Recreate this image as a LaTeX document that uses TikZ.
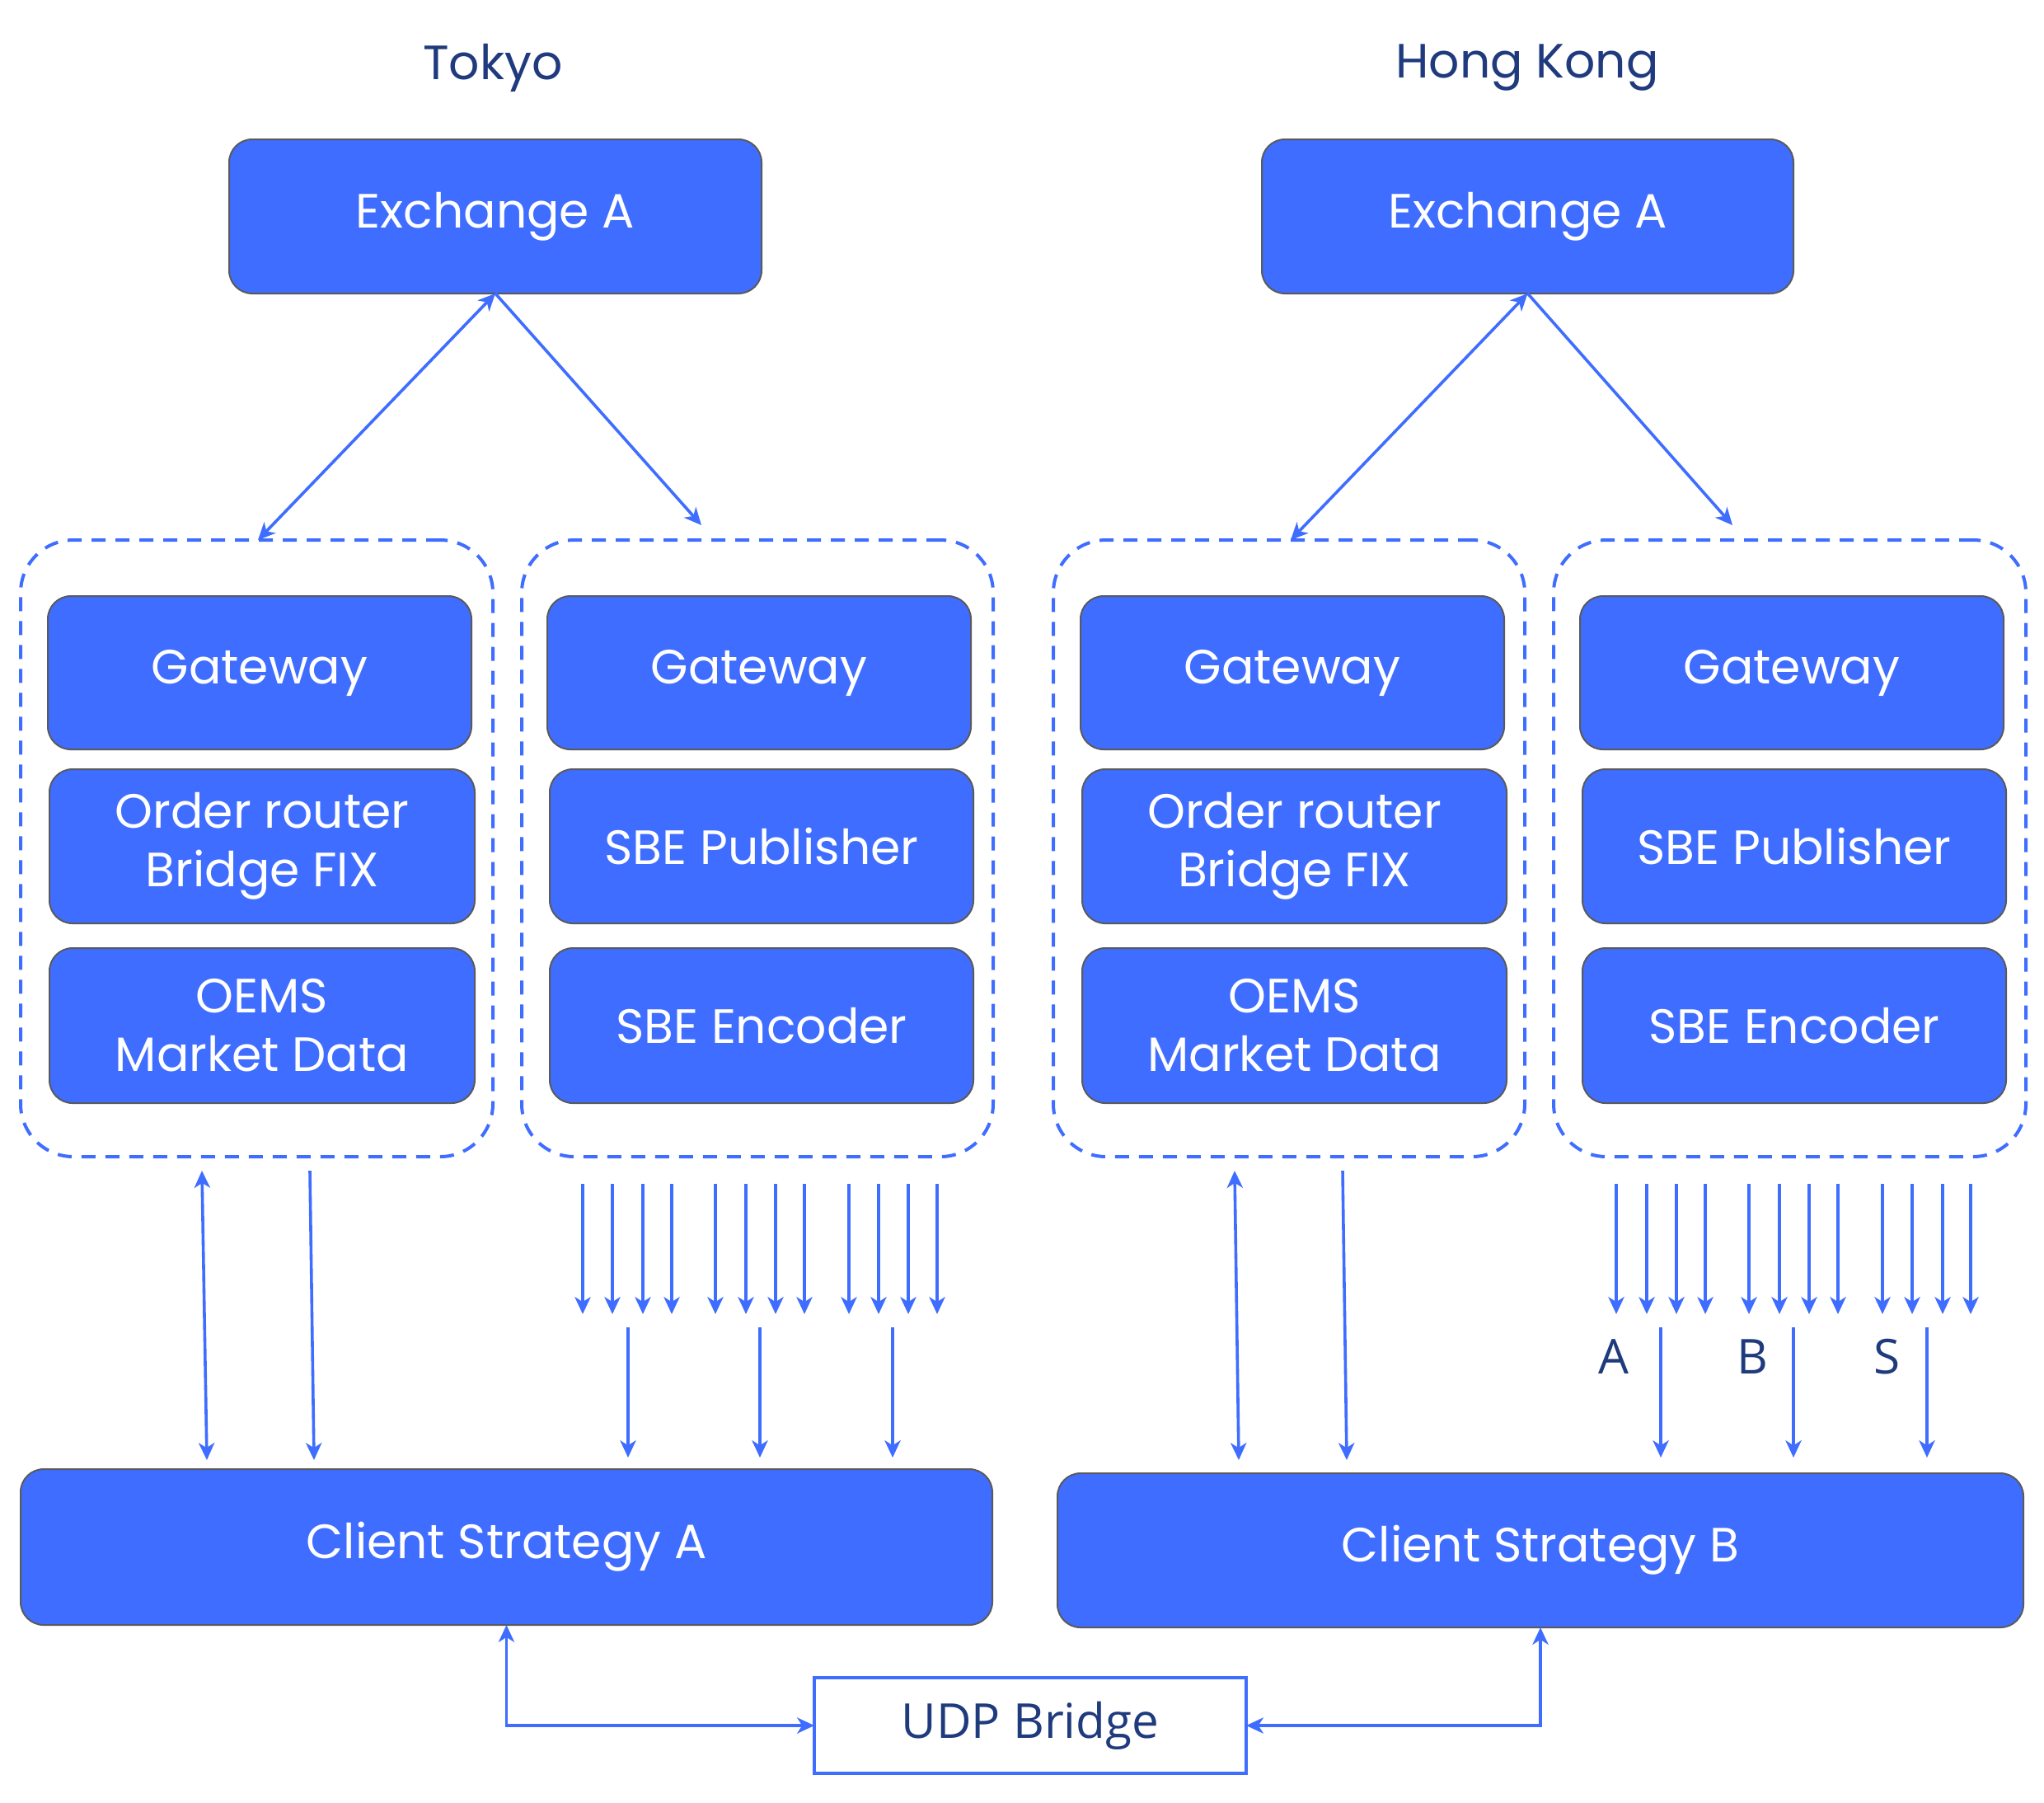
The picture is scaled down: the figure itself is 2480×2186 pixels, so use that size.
\documentclass[tikz,border=0pt]{standalone}
\usepackage{fontspec}
\setmainfont{Poppins}
\newfontfamily\labfont{Open Sans}
\usetikzlibrary{arrows.meta}
\definecolor{boxblue}{HTML}{3F6DFF}
\definecolor{lineblue}{HTML}{3F6DFF}
\definecolor{navy}{HTML}{1F3A7D}
\definecolor{boxedge}{HTML}{5A5A5A}
\tikzset{
  spot/.style n args={4}{at={(#1/2+#3/2,#2/2+#4/2)},
    minimum width={(#3-#1)*0.25pt}, minimum height={(#4-#2)*0.25pt}},
  box/.style={draw=boxedge, line width=0.5pt, fill=boxblue, rounded corners=7pt, inner sep=0pt,
    outer sep=0pt, text=white, align=center, font=\fontsize{14.6pt}{17.75pt}\selectfont},
  group/.style={draw=lineblue, line width=1pt, dash pattern=on 4.25pt off 3pt, rounded corners=16pt,
    inner sep=0pt, outer sep=0pt},
  conn/.style={draw=lineblue, line width=0.9pt},
  tip/.tip={Stealth[length=5.2pt,width=4.8pt,inset=1.5pt]},
  title/.style={text=navy, font=\fontsize{14.6pt}{17.75pt}\selectfont},
  lab/.style={text=navy, font=\labfont\fontsize{14.6pt}{17.75pt}\selectfont},
  udpbox/.style={draw=lineblue, line width=0.8pt, fill=white, inner sep=0pt, outer sep=0pt, text=navy,
    font=\labfont\fontsize{14.6pt}{17.75pt}\selectfont},
}
\begin{document}
\begin{tikzpicture}[x=0.25pt,y=-0.25pt]
\useasboundingbox (0,0) rectangle (2480,2186);
% titles
\node[title] (tTokyo) at (598,82) {Tokyo};
\node[title] (tHK) at (1853,82) {Hong Kong};
% exchanges
\node[box, spot={278}{169}{924}{356}] (exL) {Exchange A};
\node[box, spot={1531}{169}{2176}{356}] (exR) {Exchange A};
% dashed groups
\node[group, spot={25}{655}{598}{1403}] (gLL) {};
\node[group, spot={633}{655}{1205}{1403}] (gLR) {};
\node[group, spot={1278}{655}{1850}{1403}] (gRL) {};
\node[group, spot={1885}{655}{2458}{1403}] (gRR) {};
% Tokyo left group
\node[box, spot={58}{723}{572}{909}] (gwLL) {Gateway};
\node[box, spot={60}{933}{576}{1120}] (orLL) {Order router\\Bridge FIX};
\node[box, spot={60}{1150}{576}{1338}] (oeLL) {OEMS\\Market Data};
% Tokyo right group
\node[box, spot={664}{723}{1178}{909}] (gwLR) {Gateway};
\node[box, spot={667}{933}{1181}{1120}] (pubLR) {SBE Publisher};
\node[box, spot={667}{1150}{1181}{1338}] (encLR) {SBE Encoder};
% HK left group
\node[box, spot={1311}{723}{1825}{909}] (gwRL) {Gateway};
\node[box, spot={1313}{933}{1828}{1120}] (orRL) {Order router\\Bridge FIX};
\node[box, spot={1313}{1150}{1828}{1338}] (oeRL) {OEMS\\Market Data};
% HK right group
\node[box, spot={1917}{723}{2431}{909}] (gwRR) {Gateway};
\node[box, spot={1920}{933}{2434}{1120}] (pubRR) {SBE Publisher};
\node[box, spot={1920}{1150}{2434}{1338}] (encRR) {SBE Encoder};
% clients
\node[box, spot={25}{1782}{1204}{1971}] (cA) {Client Strategy A};
\node[box, spot={1283}{1787}{2455}{1974}] (cB) {Client Strategy B};
\node[udpbox, spot={988}{2035}{1512}{2151}] (udp) {UDP Bridge};
% exchange connectors
\coordinate (eL1) at (313,655);
\coordinate (eL2) at (851,637);
\coordinate (eR1) at (1566,655);
\coordinate (eR2) at (2102,637);
\draw[conn, {tip}-{tip}] (exL.south) -- (eL1);
\draw[conn, -{tip}] (exL.south) -- (eL2);
\draw[conn, {tip}-{tip}] (exR.south) -- (eR1);
\draw[conn, -{tip}] (exR.south) -- (eR2);
% order connectors
\coordinate (oA1t) at (245,1420); \coordinate (oA1b) at (251,1771);
\coordinate (oA2t) at (376,1420); \coordinate (oA2b) at (381,1771);
\coordinate (oB1t) at (1498,1420); \coordinate (oB1b) at (1503,1771);
\coordinate (oB2t) at (1629,1420); \coordinate (oB2b) at (1634,1771);
\draw[conn, {tip}-{tip}] (oA1t) -- (oA1b);
\draw[conn, -{tip}] (oA2t) -- (oA2b);
\draw[conn, {tip}-{tip}] (oB1t) -- (oB1b);
\draw[conn, -{tip}] (oB2t) -- (oB2b);
% market data fan
\foreach \x in {707,743,780,815,868,905,941,976,1030,1066,1102,1137,
                1961,1998,2034,2069,2122,2159,2195,2230,2284,2320,2357,2391}
  \draw[conn, -{tip}] (\x,1436) -- (\x,1594);
\foreach \x in {762,922,1083,2015,2176,2338}
  \draw[conn, -{tip}] (\x,1610) -- (\x,1768);
% labels
\node[lab] (lA) at (1958,1646) {A};
\node[lab] (lB) at (2126,1646) {B};
\node[lab] (lS) at (2289,1646) {S};
% UDP bridge
\draw[conn, {tip}-{tip}] (cA.south) |- (udp.west);
\draw[conn, {tip}-{tip}] (cB.south) |- (udp.east);
\end{tikzpicture}
\end{document}
